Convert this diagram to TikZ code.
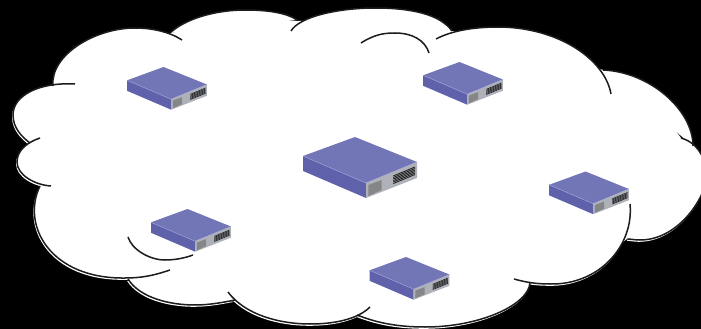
\documentclass[tikz,border=0pt]{standalone}
\definecolor{devtop}{HTML}{7276B6}
\definecolor{devside}{HTML}{5F62AA}
\definecolor{devfront}{HTML}{AEB2B8}
\definecolor{devport}{HTML}{858688}
\definecolor{devgrille}{HTML}{1E1E20}
\definecolor{devedge}{HTML}{A4A8DC}
\definecolor{cloudline}{HTML}{1C1C1C}
\tikzset{
  cloudarc/.style={draw=cloudline,line width=1.5pt,line cap=butt},
  pics/device/.style={code={
    \fill[devtop] (0,0) -- (62,25) -- (11,46) -- (-52,19) -- cycle;
    \fill[devside] (-52,19) -- (11,46) -- (11,61) -- (-52,34) -- cycle;
    \fill[devfront] (11,46) -- (62,25) -- (62,41) -- (11,61) -- cycle;
    \draw[devedge,line width=.4pt] (-52,19) -- (11,46) -- (62,25);
    \fill[devport] (13.3,48) -- (26.7,43) -- (26.7,53) -- (13.3,59) -- cycle;
    \foreach \k in {0,1,2,3,4,5}{
      \draw[devgrille,line width=#1]
        (38.3,39+\k*1.5) -- (60,30+\k*1.5);
    }
  }},
}
\def\lobeA{(53,86) .. controls (50,55) and (95,28) .. (135,28) .. controls (152,28) and (170,32) .. (182,40)}
\def\lobeB{(170,33) .. controls (185,19) and (215,10) .. (245,10) .. controls (268,10) and (287,13) .. (297,20)}
\def\lobeC{(291,31) .. controls (300,16) and (340,8) .. (375,8) .. controls (410,8) and (440,14) .. (452,31)}
\def\lobeD{(436,39) .. controls (455,29) and (480,27) .. (500,27) .. controls (560,28) and (605,60) .. (611,94)}
\def\lobeE{(603,70) .. controls (650,72) and (693,110) .. (693,146)}
\def\lobeF{(681,138) .. controls (700,143) and (710,165) .. (705,185) .. controls (700,205) and (675,240) .. (640,240) .. controls (635,240) and (630,239) .. (628,239)}
\def\lobeG{(630,204) .. controls (634,245) and (600,285) .. (550,284) .. controls (535,284) and (525,282) .. (514,279)}
\def\lobeH{(530,283) .. controls (528,305) and (480,327) .. (425,327) .. controls (395,327) and (375,322) .. (357,315)}
\def\lobeI{(228,292) .. controls (245,315) and (280,324) .. (310,324) .. controls (340,324) and (360,317) .. (370,307)}
\def\lobeJ{(128,279) .. controls (140,298) and (170,305) .. (195,305) .. controls (210,305) and (225,302) .. (235,300)}
\def\lobeK{(40,186) .. controls (21,225) and (50,279) .. (125,278) .. controls (145,278) and (158,274) .. (170,270)}
\def\lobeL{(51,186) .. controls (35,185) and (17,175) .. (17,162) .. controls (17,150) and (28,142) .. (40,138)}
\def\lobeM{(75,84) .. controls (40,82) and (13,95) .. (13,115) .. controls (13,128) and (22,137) .. (30,143)}
\def\innerA{(361,43) .. controls (375,34) and (385,33) .. (395,33) .. controls (412,33) and (425,40) .. (429,53)}
\def\innerB{(128,237) .. controls (132,250) and (150,260) .. (165,260) .. controls (175,260) and (185,258) .. (193,255)}
\begin{document}
\begin{tikzpicture}[x=1pt,y=-1pt]
\useasboundingbox (0,0) rectangle (701,329);
\clip (0,0) rectangle (701,329);
\fill[black] (0,0) rectangle (701,329);
% halo under the outline
\begin{scope}[shift={(-1,1.8)}]
  \foreach \p in {\lobeF,\lobeG,\lobeH,\lobeI,\lobeJ,\lobeK,\lobeL,\lobeM}{
    \fill[white] \p -- cycle;
  }
\end{scope}
% body of the cloud
\foreach \p in {\lobeA,\lobeB,\lobeC,\lobeD,\lobeE,\lobeF,\lobeG,\lobeH,\lobeI,\lobeJ,\lobeK,\lobeL,\lobeM}{
  \fill[white] \p -- cycle;
}
\fill[white] (53,86) -- (100,40) -- (170,33) -- (245,20) -- (297,21) -- (375,20) -- (452,31) -- (520,40) -- (603,70) -- (660,110) -- (681,138) -- (690,190) -- (640,236) -- (628,238) -- (590,270) -- (530,283) -- (450,318) -- (357,315) -- (300,318) -- (234,300) -- (195,300) -- (128,279) -- (60,255) -- (40,186) -- (30,143) -- (20,110) -- cycle;
% outline
\foreach \p in {\lobeA,\lobeB,\lobeC,\lobeD,\lobeE,\lobeF,\lobeG,\lobeH,\lobeI,\lobeJ,\lobeK,\lobeL,\lobeM,\innerA,\innerB}{
  \draw[cloudarc] \p;
}
% devices
\pic[scale=.7] at (163.5,67) {device=.6pt};
\pic[scale=.7] at (459.5,62) {device=.6pt};
\pic[scale=.7] at (585.5,171.5) {device=.6pt};
\pic[scale=.7] at (187.5,209) {device=.6pt};
\pic[scale=.7] at (406,257) {device=.6pt};
\pic at (355,137) {device=.85pt};
\end{tikzpicture}
\end{document}
